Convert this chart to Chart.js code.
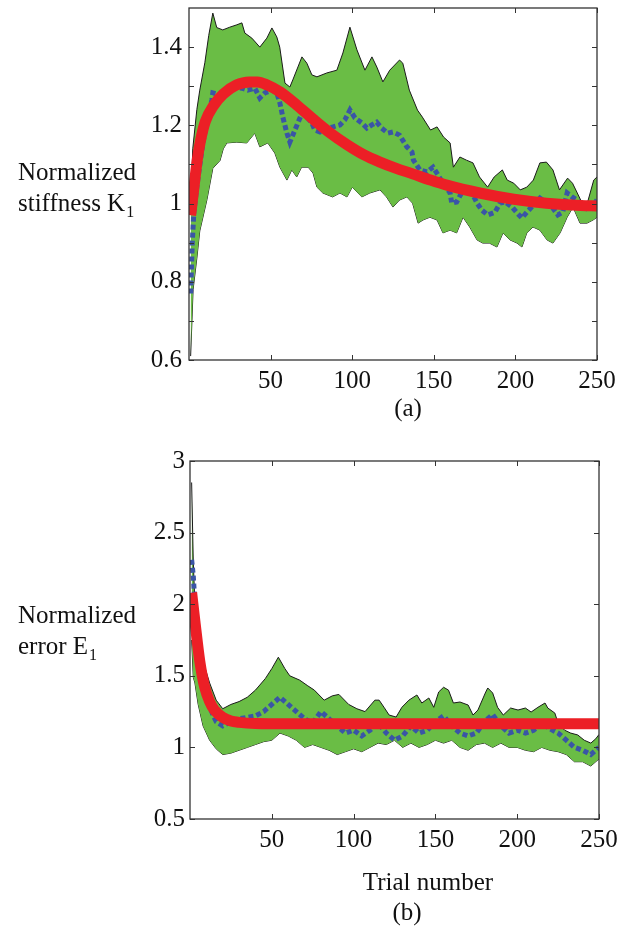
<!DOCTYPE html>
<html>
<head>
<meta charset="utf-8">
<script src="https://cdn.jsdelivr.net/npm/chart.js@4.4.0/dist/chart.umd.min.js"></script>
<style>
  body { margin: 0; background: #fff; width: 621px; height: 929px; position: relative; overflow: hidden; }
  .pane { position: absolute; left: 0; }
  .txt { position: absolute; font-family: "Liberation Serif", serif; font-size: 25px; line-height: 31px; color: #111; white-space: nowrap; }
  .txt sub { font-size: 16px; vertical-align: -6px; margin-left: 1px; }
  .ctr { text-align: center; width: 200px; }
</style>
</head>
<body>
<div class="pane" style="top:0"><canvas id="chart-k" width="621" height="450"></canvas></div>
<div class="pane" style="top:450px"><canvas id="chart-e" width="621" height="479"></canvas></div>

<div class="txt" style="left:18px;top:156px">Normalized<br>stiffness K<sub>1</sub></div>
<div class="txt ctr" style="left:308px;top:392px">(a)</div>
<div class="txt" style="left:18px;top:599px">Normalized<br>error E<sub>1</sub></div>
<div class="txt ctr" style="left:328px;top:866px">Trial number</div>
<div class="txt ctr" style="left:307px;top:896px">(b)</div>

<script>
// ---- (a) stiffness K1 ----
const kUpperT = [1, 2.3, 4.8, 6.6, 9.7, 12.1, 14.6, 17, 20.7, 25, 29.3, 32.4, 34.2, 38.5, 43.4, 47.7, 50.8, 53.8, 55.6, 58.8, 61.8, 63.6, 69.2, 72.2, 75.3, 78.4, 84.5, 90.6, 94.3, 98.6, 102.9, 107.8, 112.1, 115.1, 118.8, 123, 129, 131, 135, 140, 143, 148, 152, 156, 160, 162, 166, 170, 174, 178, 183, 187, 192, 195, 199, 203, 207, 211, 215, 219, 223, 227, 232, 235, 240, 244, 248, 250];
const kUpper = [0.98, 1.14, 1.24, 1.29, 1.36, 1.43, 1.487, 1.45, 1.444, 1.451, 1.457, 1.462, 1.436, 1.423, 1.400, 1.423, 1.449, 1.426, 1.400, 1.308, 1.298, 1.316, 1.375, 1.359, 1.329, 1.324, 1.334, 1.341, 1.385, 1.451, 1.393, 1.341, 1.375, 1.349, 1.311, 1.341, 1.367, 1.359, 1.290, 1.239, 1.221, 1.188, 1.196, 1.170, 1.155, 1.093, 1.119, 1.111, 1.104, 1.068, 1.042, 1.068, 1.086, 1.060, 1.052, 1.035, 1.042, 1.060, 1.104, 1.106, 1.086, 1.035, 1.065, 1.052, 1.009, 1.000, 1.060, 1.068];
const kLowerT = [1, 1.8, 2.5, 4.8, 6.6, 11, 14.6, 19, 21, 23.2, 29.3, 35.4, 40.3, 43.4, 48.3, 52.6, 55.7, 60, 63, 66, 69, 73, 76, 78.4, 82, 88, 92.5, 96.8, 100, 105.9, 110.8, 117, 121, 125, 129, 133.5, 137, 140.4, 143.4, 147.6, 152, 155.6, 160, 164, 167.9, 172, 176.5, 180, 184, 188.7, 192.4, 196.7, 201, 204, 207, 210.8, 215, 219.4, 223, 227.4, 231.7, 235.3, 239.6, 243.9, 247.6, 250];
const kLower = [0.61, 0.70, 0.78, 0.86, 0.93, 1.01, 1.09, 1.11, 1.14, 1.155, 1.157, 1.155, 1.180, 1.145, 1.155, 1.129, 1.093, 1.060, 1.086, 1.068, 1.093, 1.093, 1.078, 1.042, 1.027, 1.017, 1.027, 1.017, 1.042, 1.017, 1.027, 1.035, 1.017, 0.991, 1.009, 1.017, 1.001, 0.950, 0.958, 0.965, 0.958, 0.925, 0.932, 0.925, 0.965, 0.940, 0.907, 0.899, 0.899, 0.889, 0.925, 0.907, 0.899, 0.889, 0.925, 0.940, 0.932, 0.907, 0.899, 0.925, 0.965, 0.991, 0.950, 0.950, 0.958, 0.965];
const kMeanT = [1, 2, 3, 5, 8.5, 10.9, 14, 14.6, 18.9, 23.2, 26.9, 32.4, 36, 40.3, 43.4, 46.5, 50.8, 53.8, 55.7, 57.5, 60, 61.8, 64.9, 66.7, 69.2, 72.2, 75.3, 77.1, 80.2, 84.5, 88.2, 92.5, 95.5, 98.6, 101.7, 106, 109, 112, 115, 118, 121.9, 125, 129, 133.5, 136.6, 137.5, 141.5, 145.8, 149.5, 152.6, 155.6, 160, 161, 164, 167, 171, 174, 176.5, 179.5, 183, 187.5, 190.6, 193.6, 198, 201, 204, 207, 211, 215, 219, 223, 226, 229, 231.7, 234.7, 237.8, 241.5, 245.7, 250];
const kMean = [0.77, 0.90, 0.98, 1.05, 1.155, 1.206, 1.265, 1.283, 1.278, 1.290, 1.298, 1.295, 1.290, 1.295, 1.270, 1.283, 1.290, 1.283, 1.257, 1.221, 1.180, 1.157, 1.188, 1.206, 1.231, 1.221, 1.206, 1.188, 1.183, 1.193, 1.196, 1.201, 1.214, 1.239, 1.219, 1.206, 1.193, 1.201, 1.208, 1.193, 1.180, 1.183, 1.175, 1.145, 1.132, 1.111, 1.086, 1.081, 1.093, 1.073, 1.052, 1.027, 1.001, 1.004, 1.027, 1.040, 1.022, 1.001, 0.983, 0.971, 0.978, 1.001, 1.004, 0.991, 0.976, 0.963, 0.978, 0.996, 1.014, 1.001, 0.988, 0.971, 0.978, 1.027, 1.017, 1.009, 0.991, 0.983, 1.009];
const kFitT = [1, 3, 5, 7, 10, 15, 21, 29, 37, 42, 48, 56, 66, 76, 86, 97, 107, 117, 127, 137, 148, 158, 178, 199, 219, 240, 250];
const kFit = [0.97, 1.04, 1.11, 1.16, 1.21, 1.25, 1.28, 1.303, 1.311, 1.311, 1.303, 1.285, 1.252, 1.216, 1.182, 1.150, 1.125, 1.106, 1.090, 1.076, 1.060, 1.047, 1.027, 1.011, 1.001, 0.995, 0.994];
const kTicks = [0.6, 0.7, 0.8, 0.9, 1.0, 1.1, 1.2, 1.3, 1.4];
const kLabels = [0.6, 0.8, 1.0, 1.2, 1.4];

// ---- (b) error E1 ----
const eUpperT = [1, 2, 3, 5, 8, 12, 16, 20, 25, 30, 35, 40, 46, 50, 54, 58, 61, 67, 72, 76, 82, 87, 91, 97, 102, 107, 113, 115.6, 118.6, 121.7, 126, 129.5, 133.8, 138.7, 141.7, 146, 149, 152, 155, 158, 161, 165, 170, 173, 176, 180.5, 182, 185, 188, 191.5, 196, 200.5, 205, 208.5, 212.7, 217, 218.7, 223, 225, 229, 232.7, 237, 241, 245, 248, 250];
const eUpper = [2.85, 2.3, 2.0, 1.75, 1.6, 1.45, 1.33, 1.27, 1.3, 1.32, 1.35, 1.40, 1.48, 1.55, 1.63, 1.55, 1.50, 1.47, 1.43, 1.40, 1.33, 1.36, 1.37, 1.30, 1.27, 1.25, 1.33, 1.33, 1.28, 1.226, 1.212, 1.28, 1.33, 1.366, 1.31, 1.345, 1.28, 1.387, 1.42, 1.40, 1.31, 1.317, 1.296, 1.226, 1.261, 1.38, 1.415, 1.38, 1.28, 1.226, 1.275, 1.261, 1.275, 1.247, 1.28, 1.31, 1.275, 1.24, 1.17, 1.12, 1.10, 1.087, 1.05, 1.03, 1.06, 1.09];
const eLowerT = [1, 2, 3, 5, 8, 12, 16, 20, 25, 30, 35, 40, 45, 50, 55, 60, 65, 70, 75, 80, 85, 90, 95, 100, 105, 110, 115, 120, 125, 130, 135, 140, 145, 150, 155, 160, 165, 170, 175, 180, 185, 190, 195, 200, 205, 210, 215, 220, 225, 230, 235, 240, 245, 250];
const eLower = [1.75, 1.49, 1.45, 1.30, 1.15, 1.05, 0.99, 0.95, 0.96, 0.98, 1.0, 1.02, 1.04, 1.05, 1.1, 1.08, 1.05, 1.0, 1.02, 1.0, 0.98, 0.95, 0.97, 0.99, 0.97, 1.0, 1.03, 1.02, 1.05, 1.0, 1.03, 1.0, 1.02, 1.05, 1.03, 1.05, 1.0, 0.98, 1.02, 1.03, 1.0, 1.03, 1.0, 1.0, 0.98, 0.97, 1.0, 0.98, 0.97, 0.95, 0.9, 0.9, 0.87, 0.92];
const eMeanT = [1, 2, 3, 5, 8, 12, 16, 20, 25, 30, 40, 45, 50, 55, 60, 65, 70, 75, 80, 85, 90, 95, 100, 105, 110, 115, 120, 125, 130, 135, 140, 145, 150, 155, 160, 165, 170, 175, 180, 185, 190, 195, 200, 205, 210, 215, 220, 225, 230, 235, 240, 245, 250];
const eMean = [2.31, 2.2, 2.0, 1.7, 1.45, 1.28, 1.18, 1.15, 1.18, 1.2, 1.22, 1.25, 1.3, 1.35, 1.3, 1.25, 1.2, 1.17, 1.25, 1.2, 1.15, 1.1, 1.12, 1.08, 1.12, 1.17, 1.1, 1.05, 1.08, 1.15, 1.1, 1.12, 1.18, 1.22, 1.15, 1.1, 1.08, 1.1, 1.18, 1.23, 1.15, 1.1, 1.12, 1.1, 1.12, 1.17, 1.13, 1.1, 1.05, 1.0, 0.98, 0.95, 1.0];
const eFitT = [1, 3, 6, 9, 12, 15, 20, 25, 30, 40, 60, 100, 150, 200, 250];
const eFit = [2.08, 1.88, 1.6, 1.42, 1.32, 1.26, 1.21, 1.185, 1.175, 1.167, 1.165, 1.165, 1.165, 1.165, 1.165];
const eTicks = [0.5, 1, 1.5, 2, 2.5, 3];

const trialTicks = [50, 100, 150, 200, 250];

const toXY = (ts, vs) => ts.map((t, i) => ({ x: t, y: vs[i] }));

// Box round the plot area with MATLAB-style ticks pointing inward
const boxTicks = {
  id: 'boxTicks',
  afterDatasetsDraw(chart) {
    const { ctx, chartArea: a, scales: { x, y } } = chart;
    ctx.save();
    ctx.strokeStyle = '#333';
    ctx.lineWidth = 1;
    ctx.beginPath();
    x.ticks.forEach(t => {
      const px = Math.round(x.getPixelForValue(t.value)) + 0.5;
      ctx.moveTo(px, a.bottom); ctx.lineTo(px, a.bottom - 5);
      ctx.moveTo(px, a.top); ctx.lineTo(px, a.top + 5);
    });
    y.ticks.forEach(t => {
      const py = Math.round(y.getPixelForValue(t.value)) + 0.5;
      ctx.moveTo(a.left, py); ctx.lineTo(a.left + 5, py);
      ctx.moveTo(a.right, py); ctx.lineTo(a.right - 5, py);
    });
    ctx.stroke();
    ctx.lineWidth = 1.3;
    ctx.strokeRect(a.left, a.top, a.right - a.left, a.bottom - a.top);
    ctx.restore();
  }
};

const tickFont = { family: 'Liberation Serif', size: 25 };

function makeChart(id, d, opt) {
  return new Chart(document.getElementById(id), {
    type: 'line',
    data: {
      datasets: [
        { data: toXY(d.fitT, d.fit), borderColor: '#ec1f26', borderWidth: 11, cubicInterpolationMode: 'monotone', order: 0 },
        { data: toXY(d.meanT, d.mean), borderColor: '#3a55a6', borderWidth: 5, borderDash: [5, 3], order: 1 },
        { data: toXY(d.upT, d.up), borderColor: '#1a1a1a', borderWidth: 1, backgroundColor: '#6abd45', fill: '+1', order: 2 },
        { data: toXY(d.loT, d.lo), borderColor: '#1a1a1a', borderWidth: 1, fill: false, order: 3 }
      ]
    },
    options: {
      responsive: false,
      animation: false,
      events: [],
      elements: { point: { radius: 0 }, line: { tension: 0, borderCapStyle: 'butt' } },
      layout: { padding: opt.padding },
      plugins: { legend: { display: false }, tooltip: { enabled: false } },
      scales: {
        x: {
          type: 'linear', min: 0, max: 250,
          grid: { display: false, drawTicks: false }, border: { display: false },
          afterBuildTicks: s => { s.ticks = trialTicks.map(v => ({ value: v })); },
          afterFit: s => { s.height = opt.xHeight; s.paddingLeft = 0; s.paddingRight = 0; },
          ticks: { font: tickFont, color: '#111', padding: 6, maxRotation: 0 }
        },
        y: {
          type: 'linear', min: opt.yMin, max: opt.yMax,
          grid: { display: false, drawTicks: false }, border: { display: false },
          afterBuildTicks: s => { s.ticks = opt.yTicks.map(v => ({ value: v })); },
          afterFit: s => { s.width = opt.yWidth; s.paddingTop = 0; s.paddingBottom = 0; },
          ticks: {
            font: tickFont, color: '#111', padding: opt.yPad,
            callback: v => opt.yLabels.some(l => Math.abs(l - v) < 1e-6) ? String(+v.toFixed(1)) : ''
          }
        }
      }
    },
    plugins: [boxTicks]
  });
}

makeChart('chart-k',
  { fitT: kFitT, fit: kFit, meanT: kMeanT, mean: kMean, upT: kUpperT, up: kUpper, loT: kLowerT, lo: kLower },
  { padding: { top: 8, right: 24, left: 0, bottom: 0 }, xHeight: 90, yWidth: 189, yPad: 7,
    yMin: 0.6, yMax: 1.5, yTicks: kTicks, yLabels: kLabels });

makeChart('chart-e',
  { fitT: eFitT, fit: eFit, meanT: eMeanT, mean: eMean, upT: eUpperT, up: eUpper, loT: eLowerT, lo: eLower },
  { padding: { top: 11, right: 22, left: 0, bottom: 0 }, xHeight: 110, yWidth: 190, yPad: 5,
    yMin: 0.5, yMax: 3, yTicks: eTicks, yLabels: eTicks });
</script>
</body>
</html>
